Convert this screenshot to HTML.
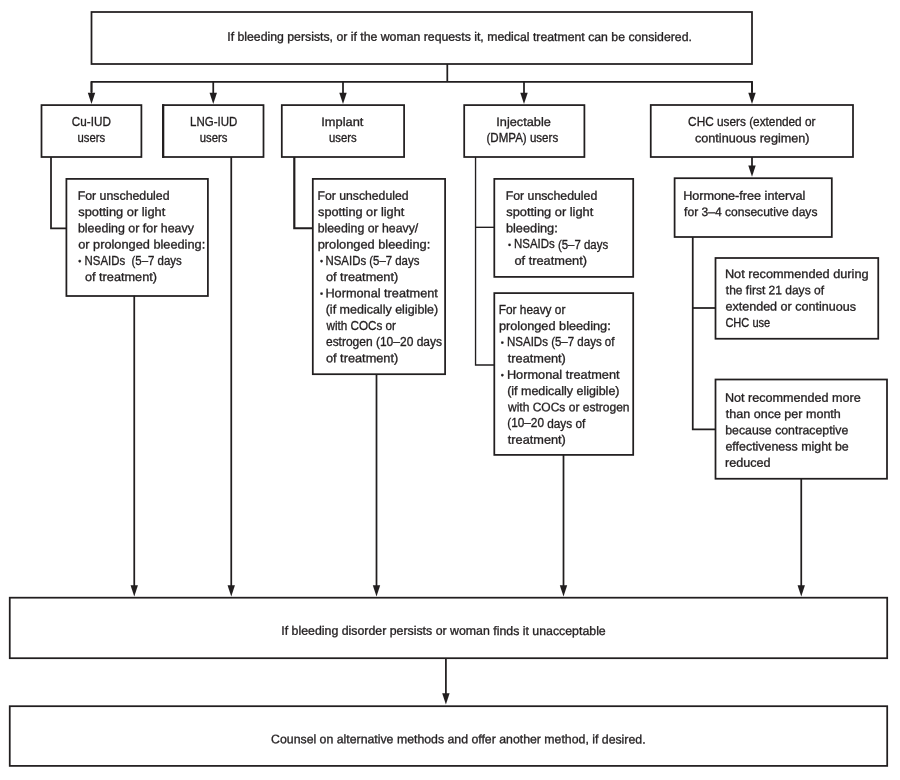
<!DOCTYPE html>
<html lang="en">
<head>
<meta charset="utf-8">
<title>Flowchart: management of bleeding irregularities</title>
<style>
html,body{margin:0;padding:0;background:#fff;}
body{width:900px;height:780px;overflow:hidden;}
svg{display:block;will-change:transform;}
svg text{font-family:"Liberation Sans",Arial,sans-serif;font-size:12.3px;fill:#211e1f;stroke:#231f20;stroke-width:0.32px;}
.b{fill:none;stroke:#211e1f;stroke-width:1.75;}
.l{fill:none;stroke:#211e1f;stroke-width:1.75;stroke-linejoin:miter;}
.a{fill:#211e1f;stroke:none;}
</style>
</head>
<body>
<svg width="900" height="780" viewBox="0 0 900 780">
<rect x="0" y="0" width="900" height="780" fill="#ffffff"/>
<g id="connectors">
<polyline class="l" points="447.3,64 447.3,81.8"/>
<polyline class="l" points="91.5,92 91.5,81.8 752,81.8 752,92"/>
<polyline class="l" points="51,157 51,228.25 66.4,228.25"/>
<polyline class="l" points="294.3,157 294.3,228.25 312.8,228.25" style="stroke-width:2.2"/>
<polyline class="l" points="163.2,104.2 163.2,157.9" style="stroke-width:2.2"/>
<polyline class="l" points="475.55,157 475.55,365 494.3,365" style="stroke-width:1.35"/>
<polyline class="l" points="475.55,227.3 494.3,227.3" style="stroke-width:1.35"/>
<polyline class="l" points="692.75,237 692.75,429.25 715.5,429.25"/>
<polyline class="l" points="692.75,308 715.5,308"/>
<line class="l" x1="91.5" y1="81.8" x2="91.5" y2="93.70"/>
<polygon class="a" points="87.80,92.70 95.20,92.70 91.5,104.0"/>
<line class="l" x1="213.25" y1="81.8" x2="213.25" y2="93.70"/>
<polygon class="a" points="209.55,92.70 216.95,92.70 213.25,104.0"/>
<line class="l" x1="343" y1="81.8" x2="343" y2="93.70"/>
<polygon class="a" points="339.30,92.70 346.70,92.70 343,104.0"/>
<line class="l" x1="524.0" y1="81.8" x2="524.0" y2="93.70"/>
<polygon class="a" points="520.30,92.70 527.70,92.70 524.0,104.0"/>
<line class="l" x1="752" y1="81.8" x2="752" y2="93.70"/>
<polygon class="a" points="748.30,92.70 755.70,92.70 752,104.0"/>
<line class="l" x1="752" y1="157" x2="752" y2="166.50"/>
<polygon class="a" points="748.30,165.50 755.70,165.50 752,176.8"/>
<line class="l" x1="134.25" y1="295.75" x2="134.25" y2="586.30"/>
<polygon class="a" points="130.55,585.30 137.95,585.30 134.25,596.6"/>
<line class="l" x1="231.25" y1="157" x2="231.25" y2="586.30"/>
<polygon class="a" points="227.55,585.30 234.95,585.30 231.25,596.6"/>
<line class="l" x1="376.5" y1="374" x2="376.5" y2="586.30"/>
<polygon class="a" points="372.80,585.30 380.20,585.30 376.5,596.6"/>
<line class="l" x1="563.5" y1="454.75" x2="563.5" y2="586.30"/>
<polygon class="a" points="559.80,585.30 567.20,585.30 563.5,596.6"/>
<line class="l" x1="801.25" y1="478.75" x2="801.25" y2="586.30"/>
<polygon class="a" points="797.55,585.30 804.95,585.30 801.25,596.6"/>
<line class="l" x1="445.9" y1="658.2" x2="445.9" y2="694.30"/>
<polygon class="a" points="442.20,693.30 449.60,693.30 445.9,704.6"/>
</g>
<g id="boxes">
<rect class="b" x="91.5" y="12" width="660.50" height="52.00"/>
<rect class="b" x="41.5" y="105.1" width="99.90" height="51.90"/>
<rect class="b" x="163.0" y="105.1" width="100.50" height="51.90"/>
<rect class="b" x="281.8" y="105.1" width="122.30" height="51.90"/>
<rect class="b" x="464.2" y="105.1" width="120.20" height="51.90"/>
<rect class="b" x="650.75" y="105" width="202.25" height="52.00"/>
<rect class="b" x="66.4" y="178.9" width="141.50" height="117.10"/>
<rect class="b" x="312.8" y="178.9" width="132.30" height="195.30"/>
<rect class="b" x="494.3" y="178.9" width="138.90" height="98.00"/>
<rect class="b" x="494.3" y="293.1" width="138.90" height="161.80"/>
<rect class="b" x="674.6" y="178.2" width="157.20" height="58.80"/>
<rect class="b" x="715.5" y="258" width="162.75" height="80.75"/>
<rect class="b" x="715.5" y="379.5" width="171.50" height="99.25"/>
<rect class="b" x="9.75" y="597.7" width="877.45" height="60.50"/>
<rect class="b" x="9.75" y="706.2" width="877.45" height="59.70"/>
</g>
<g id="labels">
<text transform="translate(227.23 40.73) matrix(1 0.0005 0 1 0 0)" textLength="464.64" lengthAdjust="spacingAndGlyphs" xml:space="preserve">If bleeding persists, or if the woman requests it, medical treatment can be considered.</text>
<text transform="translate(71.86 125.99) matrix(1 0.0005 0 1 0 0)" textLength="38.99" lengthAdjust="spacingAndGlyphs" xml:space="preserve">Cu-IUD</text>
<text transform="translate(77.51 142.24) matrix(1 0.0005 0 1 0 0)" textLength="27.65" lengthAdjust="spacingAndGlyphs" xml:space="preserve">users</text>
<text transform="translate(190.02 125.99) matrix(1 0.0005 0 1 0 0)" textLength="47.21" lengthAdjust="spacingAndGlyphs" xml:space="preserve">LNG-IUD</text>
<text transform="translate(199.76 142.24) matrix(1 0.0005 0 1 0 0)" textLength="27.65" lengthAdjust="spacingAndGlyphs" xml:space="preserve">users</text>
<text transform="translate(321.28 125.99) matrix(1 0.0005 0 1 0 0)" textLength="42.06" lengthAdjust="spacingAndGlyphs" xml:space="preserve">Implant</text>
<text transform="translate(329.01 142.24) matrix(1 0.0005 0 1 0 0)" textLength="27.65" lengthAdjust="spacingAndGlyphs" xml:space="preserve">users</text>
<text transform="translate(496.29 125.99) matrix(1 0.0005 0 1 0 0)" textLength="54.51" lengthAdjust="spacingAndGlyphs" xml:space="preserve">Injectable</text>
<text transform="translate(486.5 142.23) matrix(1 0.0005 0 1 0 0)" textLength="71.66" lengthAdjust="spacingAndGlyphs" xml:space="preserve">(DMPA) users</text>
<text transform="translate(688.1 125.97) matrix(1 0.0005 0 1 0 0)" textLength="127.38" lengthAdjust="spacingAndGlyphs" xml:space="preserve">CHC users (extended or</text>
<text transform="translate(694.94 142.22) matrix(1 0.0005 0 1 0 0)" textLength="114.65" lengthAdjust="spacingAndGlyphs" xml:space="preserve">continuous regimen)</text>
<text transform="translate(77.7 199.73) matrix(1 0.0005 0 1 0 0)" textLength="91.8" lengthAdjust="spacingAndGlyphs" xml:space="preserve">For unscheduled</text>
<text transform="translate(78.31 215.98) matrix(1 0.0005 0 1 0 0)" textLength="86.98" lengthAdjust="spacingAndGlyphs" xml:space="preserve">spotting or light</text>
<text transform="translate(77.94 232.22) matrix(1 0.0005 0 1 0 0)" textLength="115.92" lengthAdjust="spacingAndGlyphs" xml:space="preserve">bleeding or for heavy</text>
<text transform="translate(78.18 248.47) matrix(1 0.0005 0 1 0 0)" textLength="127.01" lengthAdjust="spacingAndGlyphs" xml:space="preserve">or prolonged bleeding:</text>
<text transform="translate(84.52 264.73) matrix(1 0.0005 0 1 0 0)" textLength="97.16" lengthAdjust="spacingAndGlyphs" xml:space="preserve">NSAIDs  (5–7 days</text>
<text transform="translate(84.93 280.98) matrix(1 0.0005 0 1 0 0)" textLength="72.06" lengthAdjust="spacingAndGlyphs" xml:space="preserve">of treatment)</text>
<text transform="translate(317.46 199.73) matrix(1 0.0005 0 1 0 0)" textLength="91.03" lengthAdjust="spacingAndGlyphs" xml:space="preserve">For unscheduled</text>
<text transform="translate(318.06 215.98) matrix(1 0.0005 0 1 0 0)" textLength="86.22" lengthAdjust="spacingAndGlyphs" xml:space="preserve">spotting or light</text>
<text transform="translate(317.7 232.23) matrix(1 0.0005 0 1 0 0)" textLength="100.56" lengthAdjust="spacingAndGlyphs" xml:space="preserve">bleeding or heavy/</text>
<text transform="translate(317.67 248.47) matrix(1 0.0005 0 1 0 0)" textLength="112.55" lengthAdjust="spacingAndGlyphs" xml:space="preserve">prolonged bleeding:</text>
<text transform="translate(325.52 264.73) matrix(1 0.0005 0 1 0 0)" textLength="93.86" lengthAdjust="spacingAndGlyphs" xml:space="preserve">NSAIDs (5–7 days</text>
<text transform="translate(325.93 280.98) matrix(1 0.0005 0 1 0 0)" textLength="72.32" lengthAdjust="spacingAndGlyphs" xml:space="preserve">of treatment)</text>
<text transform="translate(325.42 297.22) matrix(1 0.0005 0 1 0 0)" textLength="112.4" lengthAdjust="spacingAndGlyphs" xml:space="preserve">Hormonal treatment</text>
<text transform="translate(325.69 313.47) matrix(1 0.0005 0 1 0 0)" textLength="112.55" lengthAdjust="spacingAndGlyphs" xml:space="preserve">(if medically eligible)</text>
<text transform="translate(326.45 329.73) matrix(1 0.0005 0 1 0 0)" textLength="69.53" lengthAdjust="spacingAndGlyphs" xml:space="preserve">with COCs or</text>
<text transform="translate(325.96 345.97) matrix(1 0.0005 0 1 0 0)" textLength="116.0" lengthAdjust="spacingAndGlyphs" xml:space="preserve">estrogen (10–20 days</text>
<text transform="translate(325.93 362.23) matrix(1 0.0005 0 1 0 0)" textLength="72.32" lengthAdjust="spacingAndGlyphs" xml:space="preserve">of treatment)</text>
<text transform="translate(505.7 199.73) matrix(1 0.0005 0 1 0 0)" textLength="91.54" lengthAdjust="spacingAndGlyphs" xml:space="preserve">For unscheduled</text>
<text transform="translate(506.31 215.98) matrix(1 0.0005 0 1 0 0)" textLength="86.98" lengthAdjust="spacingAndGlyphs" xml:space="preserve">spotting or light</text>
<text transform="translate(505.92 232.24) matrix(1 0.0005 0 1 0 0)" textLength="51.8" lengthAdjust="spacingAndGlyphs" xml:space="preserve">bleeding:</text>
<text transform="translate(514.02 248.48) matrix(1 0.0005 0 1 0 0)" textLength="94.12" lengthAdjust="spacingAndGlyphs" xml:space="preserve">NSAIDs (5–7 days</text>
<text transform="translate(514.43 264.73) matrix(1 0.0005 0 1 0 0)" textLength="72.57" lengthAdjust="spacingAndGlyphs" xml:space="preserve">of treatment)</text>
<text transform="translate(498.73 313.73) matrix(1 0.0005 0 1 0 0)" textLength="66.67" lengthAdjust="spacingAndGlyphs" xml:space="preserve">For heavy or</text>
<text transform="translate(498.92 329.97) matrix(1 0.0005 0 1 0 0)" textLength="111.79" lengthAdjust="spacingAndGlyphs" xml:space="preserve">prolonged bleeding:</text>
<text transform="translate(507.01 346.22) matrix(1 0.0005 0 1 0 0)" textLength="107.45" lengthAdjust="spacingAndGlyphs" xml:space="preserve">NSAIDs (5–7 days of</text>
<text transform="translate(507.82 362.49) matrix(1 0.0005 0 1 0 0)" textLength="58.01" lengthAdjust="spacingAndGlyphs" xml:space="preserve">treatment)</text>
<text transform="translate(506.91 378.72) matrix(1 0.0005 0 1 0 0)" textLength="112.65" lengthAdjust="spacingAndGlyphs" xml:space="preserve">Hormonal treatment</text>
<text transform="translate(507.19 394.97) matrix(1 0.0005 0 1 0 0)" textLength="112.3" lengthAdjust="spacingAndGlyphs" xml:space="preserve">(if medically eligible)</text>
<text transform="translate(507.95 411.22) matrix(1 0.0005 0 1 0 0)" textLength="121.56" lengthAdjust="spacingAndGlyphs" xml:space="preserve">with COCs or estrogen</text>
<text transform="translate(507.23 427.48) matrix(1 0.0005 0 1 0 0)" textLength="78.01" lengthAdjust="spacingAndGlyphs" xml:space="preserve">(10–20 days of</text>
<text transform="translate(507.82 443.74) matrix(1 0.0005 0 1 0 0)" textLength="58.01" lengthAdjust="spacingAndGlyphs" xml:space="preserve">treatment)</text>
<text transform="translate(683.17 199.72) matrix(1 0.0005 0 1 0 0)" textLength="122.16" lengthAdjust="spacingAndGlyphs" xml:space="preserve">Hormone-free interval</text>
<text transform="translate(684.08 215.97) matrix(1 0.0005 0 1 0 0)" textLength="133.34" lengthAdjust="spacingAndGlyphs" xml:space="preserve">for 3–4 consecutive days</text>
<text transform="translate(724.91 278.06) matrix(1 0.0005 0 1 0 0)" textLength="143.64" lengthAdjust="spacingAndGlyphs" xml:space="preserve">Not recommended during</text>
<text transform="translate(725.83 294.33) matrix(1 0.0005 0 1 0 0)" textLength="98.17" lengthAdjust="spacingAndGlyphs" xml:space="preserve">the first 21 days of</text>
<text transform="translate(725.44 310.57) matrix(1 0.0005 0 1 0 0)" textLength="130.56" lengthAdjust="spacingAndGlyphs" xml:space="preserve">extended or continuous</text>
<text transform="translate(725.39 326.84) matrix(1 0.0005 0 1 0 0)" textLength="44.83" lengthAdjust="spacingAndGlyphs" xml:space="preserve">CHC use</text>
<text transform="translate(724.93 401.72) matrix(1 0.0005 0 1 0 0)" textLength="135.82" lengthAdjust="spacingAndGlyphs" xml:space="preserve">Not recommended more</text>
<text transform="translate(725.82 417.97) matrix(1 0.0005 0 1 0 0)" textLength="115.01" lengthAdjust="spacingAndGlyphs" xml:space="preserve">than once per month</text>
<text transform="translate(725.2 434.22) matrix(1 0.0005 0 1 0 0)" textLength="123.12" lengthAdjust="spacingAndGlyphs" xml:space="preserve">because contraceptive</text>
<text transform="translate(725.45 450.47) matrix(1 0.0005 0 1 0 0)" textLength="123.33" lengthAdjust="spacingAndGlyphs" xml:space="preserve">effectiveness might be</text>
<text transform="translate(725.05 466.74) matrix(1 0.0005 0 1 0 0)" textLength="45.54" lengthAdjust="spacingAndGlyphs" xml:space="preserve">reduced</text>
<text transform="translate(281.32 634.77) matrix(1 0.0005 0 1 0 0)" textLength="324.42" lengthAdjust="spacingAndGlyphs" xml:space="preserve">If bleeding disorder persists or woman finds it unacceptable</text>
<text transform="translate(271.07 743.21) matrix(1 0.0005 0 1 0 0)" textLength="374.49" lengthAdjust="spacingAndGlyphs" xml:space="preserve">Counsel on alternative methods and offer another method, if desired.</text>
<text transform="translate(78.18 263.95) matrix(1 0.0005 0 1 0 0)" style="font-size:8.8px">•</text>
<text transform="translate(319.93 263.95) matrix(1 0.0005 0 1 0 0)" style="font-size:8.8px">•</text>
<text transform="translate(319.93 296.45) matrix(1 0.0005 0 1 0 0)" style="font-size:8.8px">•</text>
<text transform="translate(507.93 247.7) matrix(1 0.0005 0 1 0 0)" style="font-size:8.8px">•</text>
<text transform="translate(500.68 345.45) matrix(1 0.0005 0 1 0 0)" style="font-size:8.8px">•</text>
<text transform="translate(500.68 377.95) matrix(1 0.0005 0 1 0 0)" style="font-size:8.8px">•</text>
</g>
</svg>
</body>
</html>
